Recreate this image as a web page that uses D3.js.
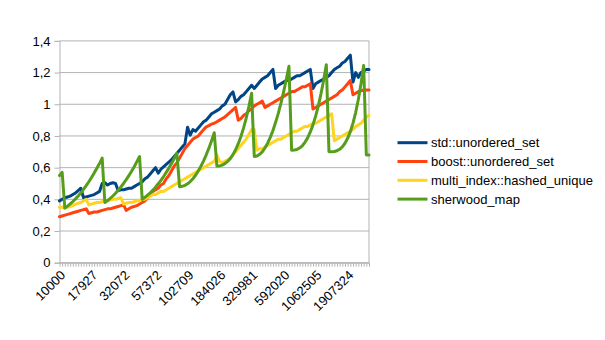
<!DOCTYPE html>
<html>
<head>
<meta charset="utf-8">
<script src="https://cdn.jsdelivr.net/npm/d3@7/dist/d3.min.js"></script>
<style>
  body { margin: 0; background: #fff; }
  text { font-family: "Liberation Sans", Arial, sans-serif; }
</style>
</head>
<body>
<svg id="chart" width="605" height="340"></svg>
<script>
// Insertion time per element, one value per container size step
const seriesNames = ["std::unordered_set", "boost::unordered_set", "multi_index::hashed_unique", "sherwood_map"];
const seriesColors = ["#004586", "#ff420e", "#ffd320", "#579d1c"];

const stdUnorderedSet = [
  0.39, 0.40, 0.41, 0.415, 0.42, 0.43, 0.44, 0.455, 0.47,
  0.41, 0.415, 0.42, 0.425, 0.43, 0.44, 0.45,
  0.50, 0.505, 0.49, 0.50, 0.505, 0.50,
  0.455, 0.46, 0.46, 0.465, 0.47, 0.47, 0.48, 0.49, 0.50, 0.51, 0.53, 0.54, 0.56, 0.58,
  0.60,
  0.565, 0.59, 0.605, 0.62, 0.635, 0.65, 0.67, 0.69, 0.71, 0.73, 0.75,
  0.855,
  0.805, 0.84, 0.83, 0.85, 0.87, 0.89, 0.90, 0.92, 0.94, 0.95, 0.96, 0.97, 0.99, 1.00, 1.03, 1.06, 1.078,
  1.015, 1.03, 1.05, 1.06, 1.08, 1.10, 1.12, 1.10, 1.12, 1.14, 1.16, 1.17, 1.18, 1.20, 1.22,
  1.10, 1.12, 1.13, 1.14, 1.15, 1.15, 1.16, 1.17, 1.18, 1.18, 1.19, 1.20, 1.21, 1.22,
  1.10, 1.13, 1.14, 1.15, 1.16, 1.17, 1.18, 1.20, 1.22, 1.23, 1.24, 1.26, 1.27, 1.29, 1.31,
  1.14, 1.20, 1.17, 1.20, 1.21, 1.22, 1.22
];

const boostUnorderedSet = [
  0.29, 0.295, 0.30, 0.305, 0.31, 0.315, 0.32, 0.325, 0.33, 0.335, 0.34,
  0.31, 0.315, 0.32, 0.32, 0.325, 0.33, 0.335, 0.34, 0.34, 0.345, 0.35, 0.355, 0.36, 0.365,
  0.33, 0.34, 0.35, 0.355, 0.36, 0.37, 0.38, 0.39, 0.41, 0.43, 0.45, 0.46, 0.47, 0.49, 0.50, 0.53, 0.55, 0.58, 0.61, 0.63, 0.66, 0.69,
  0.72, 0.74, 0.76, 0.78, 0.79, 0.80, 0.82, 0.84, 0.857, 0.865, 0.875, 0.88, 0.89, 0.90, 0.91, 0.92, 0.935, 0.95, 0.965, 0.98,
  0.90, 0.91, 0.93, 0.94, 0.96, 0.97, 0.99, 1.00, 1.01, 1.02,
  0.98, 0.99, 1.00, 1.01, 1.02, 1.03, 1.04, 1.05, 1.06, 1.07, 1.08, 1.08, 1.09, 1.10, 1.11, 1.11, 1.12, 1.13,
  0.97, 0.98, 0.99, 1.00, 1.01, 1.02, 1.03, 1.04, 1.05, 1.06, 1.08, 1.09, 1.11, 1.13, 1.15,
  1.06, 1.07, 1.08, 1.085, 1.09, 1.09, 1.09
];

const multiIndexHashedUnique = [
  0.35, 0.35, 0.345, 0.35, 0.355, 0.36, 0.37, 0.375, 0.38, 0.39, 0.40,
  0.365, 0.37, 0.375, 0.38, 0.38, 0.385, 0.39, 0.39, 0.395, 0.40, 0.40, 0.405, 0.41,
  0.37, 0.375, 0.38, 0.38, 0.385, 0.39, 0.39, 0.40, 0.40, 0.41, 0.42, 0.43, 0.43, 0.44, 0.45, 0.45,
  0.46, 0.47, 0.48, 0.49, 0.50, 0.51, 0.52, 0.53, 0.54, 0.55, 0.56, 0.57, 0.58, 0.59, 0.60, 0.61, 0.62, 0.63, 0.64,
  0.68,
  0.64, 0.63, 0.64, 0.65, 0.66, 0.68, 0.70, 0.72, 0.74, 0.76, 0.78, 0.81, 0.84, 0.84,
  0.71, 0.72, 0.72, 0.73, 0.74, 0.75, 0.76, 0.77, 0.78, 0.78, 0.79, 0.80, 0.81, 0.82, 0.83, 0.83, 0.84, 0.85, 0.86, 0.86,
  0.87, 0.88, 0.88, 0.89, 0.90, 0.91, 0.92, 0.93, 0.94,
  0.77, 0.78, 0.79, 0.80, 0.81, 0.82, 0.83, 0.84, 0.86, 0.87, 0.88, 0.90, 0.92, 0.93
];

const sherwoodMap = [
  0.55, 0.57,
  0.345, 0.357, 0.371, 0.386, 0.403, 0.421, 0.441, 0.463, 0.486, 0.511, 0.538, 0.566, 0.596, 0.627, 0.66,
  0.380, 0.392, 0.406, 0.421, 0.438, 0.457, 0.478, 0.500, 0.524, 0.550, 0.577, 0.606, 0.638, 0.670,
  0.400, 0.412, 0.426, 0.441, 0.458, 0.477, 0.498, 0.520, 0.544, 0.570, 0.597, 0.626, 0.658, 0.690,
  0.480, 0.482, 0.488, 0.498, 0.512, 0.530, 0.552, 0.579, 0.609, 0.643, 0.681, 0.723, 0.770, 0.820,
  0.610, 0.611, 0.616, 0.625, 0.639, 0.657, 0.682, 0.713, 0.751, 0.797, 0.851, 0.914, 0.987, 1.070,
  0.670, 0.673, 0.684, 0.700, 0.724, 0.754, 0.791, 0.835, 0.886, 0.943, 1.007, 1.078, 1.156, 1.240,
  0.710, 0.711, 0.715, 0.724, 0.738, 0.760, 0.788, 0.825, 0.870, 0.925, 0.990, 1.066, 1.152, 1.250,
  0.700, 0.700, 0.702, 0.707, 0.716, 0.731, 0.754, 0.785, 0.827, 0.881, 0.948, 1.030, 1.129, 1.245,
  0.68, 0.68
];

// Every 12th container size is labelled on the category axis
const xTickLabels = ["10000", "17927", "32072", "57372", "102709", "184026", "329981", "592020", "1062505", "1907324"];
const labelStep = 12;
const yTickValues = [0, 0.2, 0.4, 0.6, 0.8, 1.0, 1.2, 1.4];

const series = [stdUnorderedSet, boostUnorderedSet, multiIndexHashedUnique, sherwoodMap];

const plot = { left: 59.5, right: 369, top: 40.9, bottom: 262.7 };
const gridColor = "#b3b3b3";

const svg = d3.select("#chart");
svg.append("rect").attr("width", 605).attr("height", 340).attr("fill", "#fff");

const x = d3.scalePoint()
  .domain(d3.range(stdUnorderedSet.length))
  .range([plot.left, plot.right]);

const y = d3.scaleLinear()
  .domain([0, 1.4])
  .range([plot.bottom, plot.top]);

// horizontal grid
svg.append("g")
  .selectAll("line")
  .data(yTickValues)
  .join("line")
  .attr("x1", plot.left).attr("x2", plot.right)
  .attr("y1", d => y(d)).attr("y2", d => y(d))
  .attr("stroke", gridColor).attr("stroke-width", 1);

// right border of the plot wall
svg.append("line")
  .attr("x1", plot.right).attr("x2", plot.right)
  .attr("y1", plot.top).attr("y2", plot.bottom)
  .attr("stroke", gridColor).attr("stroke-width", 1);

// y axis
const yAxis = svg.append("g")
  .attr("transform", `translate(${plot.left},0)`)
  .call(d3.axisLeft(y)
    .tickValues(yTickValues)
    .tickSize(5)
    .tickPadding(4)
    .tickFormat(d => d3.format("~g")(d).replace(".", ",")));
yAxis.select(".domain").attr("stroke", gridColor);
yAxis.selectAll(".tick line").attr("stroke", gridColor);
yAxis.selectAll("text")
  .attr("font-size", 13)
  .attr("fill", "#000")
  .attr("font-family", "Liberation Sans, Arial, sans-serif");

// x axis: a tick for every size, a label on every 12th
const xAxis = svg.append("g")
  .attr("transform", `translate(0,${plot.bottom})`)
  .call(d3.axisBottom(x)
    .tickValues(x.domain())
    .tickSize(4)
    .tickSizeOuter(0)
    .tickFormat(i => (i % labelStep === 0 && xTickLabels[i / labelStep]) ? xTickLabels[i / labelStep] : ""));
xAxis.select(".domain").attr("stroke", gridColor);
xAxis.selectAll(".tick line").attr("stroke", gridColor);
xAxis.selectAll("text")
  .attr("font-size", 13)
  .attr("fill", "#000")
  .attr("font-family", "Liberation Sans, Arial, sans-serif")
  .attr("text-anchor", "end")
  .attr("x", 0).attr("y", 0).attr("dy", "0.35em")
  .attr("transform", "translate(3,10) rotate(-45)");

// series lines
const line = d3.line()
  .x((d, i) => x(i))
  .y(d => y(d));

svg.append("g")
  .selectAll("path")
  .data(series)
  .join("path")
  .attr("d", line)
  .attr("fill", "none")
  .attr("stroke", (d, i) => seriesColors[i])
  .attr("stroke-width", 3)
  .attr("stroke-linejoin", "round")
  .attr("stroke-linecap", "round");

// legend
const legend = svg.append("g").attr("transform", "translate(397.5,142.7)");
const rows = legend.selectAll("g")
  .data(seriesNames)
  .join("g")
  .attr("transform", (d, i) => `translate(0,${i * 18.8})`);
rows.append("line")
  .attr("x1", 0).attr("x2", 30)
  .attr("stroke", (d, i) => seriesColors[i])
  .attr("stroke-width", 3);
rows.append("text")
  .attr("x", 33.5)
  .attr("dy", "0.35em")
  .attr("font-size", 13)
  .attr("fill", "#000")
  .text(d => d);
</script>
</body>
</html>
